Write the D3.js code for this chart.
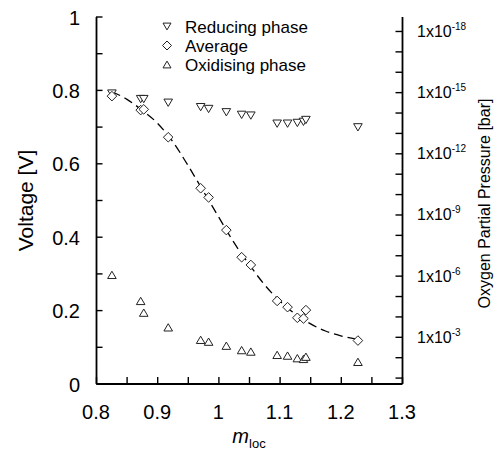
<!DOCTYPE html>
<html><head><meta charset="utf-8">
<script src="https://cdn.jsdelivr.net/npm/d3@7"></script>
<style>body{margin:0;background:#fff}svg{display:block}text{font-family:"Liberation Sans",Arial,sans-serif;fill:#000}</style>
</head><body>
<script>
const mloc = [0.826,0.873,0.878,0.918,0.971,0.984,1.013,1.038,1.053,1.096,1.113,1.129,1.139,1.143,1.228];
const reducing = [0.790,0.775,0.775,0.765,0.753,0.748,0.739,0.732,0.730,0.708,0.708,0.710,0.713,0.718,0.698];
const average = [0.783,0.745,0.747,0.671,0.532,0.507,0.418,0.344,0.323,0.225,0.208,0.179,0.177,0.200,0.117];
const oxidising = [0.296,0.225,0.193,0.153,0.119,0.114,0.103,0.091,0.087,0.078,0.076,0.069,0.067,0.073,0.059];
const fitX = [0.826,0.85,0.875,0.9,0.925,0.95,0.975,1.0,1.025,1.05,1.075,1.1,1.125,1.15,1.175,1.2,1.228];
const fitV = [0.795,0.775,0.745,0.71,0.66,0.595,0.525,0.455,0.385,0.325,0.27,0.225,0.19,0.163,0.143,0.13,0.12];
const xTickLabels = ["0.8","0.9","1","1.1","1.2","1.3"];
const yTickLabels = ["0","0.2","0.4","0.6","0.8","1"];
const pExponents = [-18,-15,-12,-9,-6,-3];
const legendLabels = ["Reducing phase","Average","Oxidising phase"];

const W=501,H=451, m={l:96,r:99,t:16.5,b:67.5};
const svg=d3.select("body").append("svg").attr("width",W).attr("height",H);
const x=d3.scaleLinear().domain([0.8,1.3]).range([m.l,W-m.r]);
const y=d3.scaleLinear().domain([0,1]).range([H-m.b,m.t]);
const yP=d3.scaleLog().domain([Math.pow(10,-0.71),Math.pow(10,-18.71)]).range([H-m.b,m.t]);

const tl=6.5;
// bottom axis
const gx=svg.append("g").attr("transform",`translate(0,${H-m.b})`)
 .call(d3.axisBottom(x).tickValues(d3.range(0,11).map(i=>0.8+i*0.05)).tickSize(0).tickFormat(""));
gx.selectAll(".tick line").attr("y2",-tl).attr("stroke-width",1.4);
gx.select(".domain").attr("stroke-width",1.8);
svg.append("g").selectAll("text").data(xTickLabels).join("text")
 .attr("x",d=>x(+d)).attr("y",H-m.b+35.5).attr("text-anchor","middle").attr("font-size",20).text(d=>d);
// left axis
const gy=svg.append("g").attr("transform",`translate(${m.l},0)`)
 .call(d3.axisLeft(y).tickValues(d3.range(0,11).map(i=>i/10)).tickSize(0).tickFormat(""));
gy.selectAll(".tick line").attr("x2",tl).attr("stroke-width",1.4);
gy.select(".domain").attr("stroke-width",1.8);
svg.append("g").selectAll("text").data(yTickLabels).join("text")
 .attr("x",m.l-16).attr("y",d=>y(+d)+8).attr("text-anchor","end").attr("font-size",20).text(d=>d);
// right axis
const gr=svg.append("g").attr("transform",`translate(${W-m.r},0)`)
 .call(d3.axisRight(yP).tickValues(d3.range(-18,0).map(e=>Math.pow(10,e))).tickSize(0).tickFormat(""));
gr.selectAll(".tick line").attr("x2",-tl).attr("stroke-width",1.4);
gr.select(".domain").attr("stroke-width",1.8);
const pl=svg.append("g").selectAll("text").data(pExponents).join("text")
 .attr("x",W-m.r+15).attr("y",d=>yP(Math.pow(10,d))+6).attr("font-size",16);
pl.append("tspan").text("1x10");
pl.append("tspan").attr("dy",-7).attr("font-size",10).text(d=>String(d));

// titles
svg.append("text").attr("transform",`translate(33,200.5) rotate(-90)`).attr("text-anchor","middle").attr("font-size",21).text("Voltage [V]");
svg.append("text").attr("transform",`translate(490,203.5) rotate(-90)`).attr("text-anchor","middle").attr("font-size",16).text("Oxygen Partial Pressure [bar]");
const xt=svg.append("text").attr("x",(m.l+W-m.r)/2).attr("y",443).attr("text-anchor","middle").attr("font-size",20);
xt.append("tspan").attr("font-style","italic").text("m");
xt.append("tspan").attr("font-size",13).attr("dy",4.5).text("loc");

// fit curve
svg.append("path").datum(fitX.map((d,i)=>[d,fitV[i]]))
 .attr("d",d3.line().x(d=>x(d[0])).y(d=>y(d[1])).curve(d3.curveMonotoneX))
 .attr("fill","none").attr("stroke","#000").attr("stroke-width",1.3).attr("stroke-dasharray","9,5");

const triDown=s=>`M${-s},${-s*0.85}L${s},${-s*0.85}L0,${s*0.85}Z`;
const triUp=s=>`M${-s},${s*0.85}L${s},${s*0.85}L0,${-s*0.85}Z`;
const diamond=s=>`M0,${-s}L${s},0L0,${s}L${-s},0Z`;
const series=[[reducing,triDown(4.3)],[average,diamond(4.8)],[oxidising,triUp(4.3)]];
series.forEach(([vals,p])=>{
  svg.append("g").selectAll("path").data(vals).join("path")
   .attr("transform",(d,i)=>`translate(${x(mloc[i])},${y(d)})`)
   .attr("d",p).attr("fill","#fff").attr("stroke","#222").attr("stroke-width",1);
});

// legend
const lg=svg.append("g");
const lshapes=[triDown(4),diamond(4.5),triUp(4)];
legendLabels.forEach((t,i)=>{
  const yy=26.5+i*19;
  lg.append("path").attr("transform",`translate(167,${yy})`).attr("d",lshapes[i]).attr("fill","#fff").attr("stroke","#222");
  lg.append("text").attr("x",185).attr("y",yy+6.3).attr("font-size",17).text(t);
});
</script>
</body></html>
